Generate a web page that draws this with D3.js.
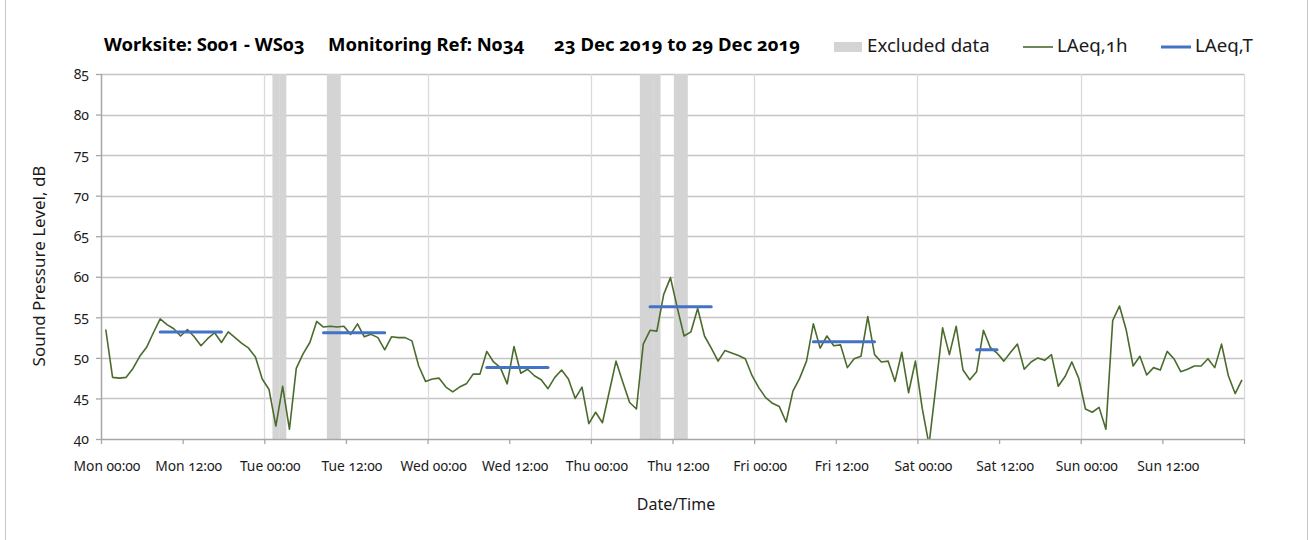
<!DOCTYPE html>
<html>
<head>
<meta charset="utf-8">
<script src="https://cdn.jsdelivr.net/npm/d3@7"></script>
<style>
  html, body { margin: 0; padding: 0; background: #fff; }
  svg { display: block; font-family: "Noto Sans", Lato, sans-serif; }
  svg text { font-variant-numeric: oldstyle-nums; font-feature-settings: "onum" 1; }
</style>
</head>
<body>
<svg id="chart" width="1309" height="540"></svg>
<script>
// ---------------- DATA ----------------
const titleParts = ["Worksite: S001 - WS03", "Monitoring Ref: N034", "23 Dec 2019 to 29 Dec 2019"];
const xTickLabels = ["Mon 00:00", "Mon 12:00", "Tue 00:00", "Tue 12:00", "Wed 00:00", "Wed 12:00",
                     "Thu 00:00", "Thu 12:00", "Fri 00:00", "Fri 12:00", "Sat 00:00", "Sat 12:00",
                     "Sun 00:00", "Sun 12:00"];
const yTickValues = [40, 45, 50, 55, 60, 65, 70, 75, 80, 85];
// hourly LAeq,1h values, one per hour starting Mon 00:00 (point time = hour + 0.7)
const pointOffsetHours = 0.7;
const laeq1h = [
  53.5, 47.6, 47.5, 47.6, 48.7, 50.2, 51.3, 53.1, 54.8, 54.1, 53.6, 52.7, 53.5, 52.6, 51.5, 52.4, 53.1, 51.9, 53.2, 52.5, 51.8, 51.2, 50.1, 47.4,
  46.1, 41.6, 46.5, 41.2, 48.7, 50.5, 51.9, 54.5, 53.8, 53.9, 53.8, 53.9, 52.9, 54.2, 52.6, 52.9, 52.5, 51.0, 52.6, 52.5, 52.5, 52.1, 49.0, 47.1,
  47.4, 47.5, 46.4, 45.8, 46.4, 46.8, 48.0, 48.0, 50.8, 49.5, 48.8, 46.8, 51.4, 48.1, 48.6, 47.8, 47.3, 46.2, 47.6, 48.5, 47.4, 45.0, 46.4, 41.9,
  43.3, 42.0, 45.8, 49.6, 47.0, 44.5, 43.7, 51.7, 53.4, 53.3, 57.8, 59.9, 56.2, 52.7, 53.2, 56.1, 52.7, 51.2, 49.6, 50.9, 50.6, 50.3, 49.9, 47.8,
  46.3, 45.1, 44.4, 44.0, 42.1, 45.9, 47.5, 49.6, 54.2, 51.2, 52.7, 51.5, 51.6, 48.8, 49.9, 50.2, 55.1, 50.4, 49.5, 49.6, 47.1, 50.7, 45.7, 49.6,
  43.8, 39.3, 46.4, 53.7, 50.4, 53.9, 48.5, 47.3, 48.3, 53.4, 51.3, 50.6, 49.6, 50.7, 51.7, 48.6, 49.5, 50.0, 49.7, 50.4, 46.5, 47.7, 49.5, 47.5,
  43.7, 43.3, 43.9, 41.2, 54.6, 56.4, 53.4, 49.0, 50.2, 47.9, 48.8, 48.5, 50.8, 49.9, 48.3, 48.6, 49.0, 49.0, 49.9, 48.8, 51.7, 47.8, 45.6, 47.3
];
// LAeq,T daytime periods (hour indices of first / last hourly point) and values
const periodStart = [8, 32, 56, 80, 104, 128];
const periodEnd   = [17, 41, 65, 89, 113, 131];
const laeqT       = [53.2, 53.1, 48.8, 56.3, 52.0, 51.0];
// hours whose data are excluded
const excludedHours = [25, 26, 33, 34, 79, 80, 81, 84, 85];
const legendLabels = ["Excluded data", "LAeq,1h", "LAeq,T"];
const axisTitles = { y: "Sound Pressure Level, dB", x: "Date/Time" };

// ---------------- LAYOUT ----------------
const W = 1309, H = 540;
const plot = { left: 101, right: 1244, top: 74, bottom: 439 };
const colors = { line: "#4a6b2c", blue: "#4472c4", excl: "#d4d4d4", gridH: "#c4c4c4", gridV: "#dadada", axis: "#a6a6a6", text: "#1a1a1a" };

const svg = d3.select("#chart");
svg.append("rect").attr("width", W).attr("height", H).attr("fill", "#fff");
svg.append("line").attr("x1", 5.5).attr("x2", 5.5).attr("y1", 0).attr("y2", H).attr("stroke", "#c8c8c8");
svg.append("line").attr("x1", 1307.5).attr("x2", 1307.5).attr("y1", 0).attr("y2", H).attr("stroke", "#c8c8c8");

const x = d3.scaleLinear().domain([0, 168]).range([plot.left, plot.right]);
const y = d3.scaleLinear().domain([40, 85]).range([plot.bottom, plot.top]);

svg.append("g").selectAll("line").data(yTickValues.filter(v => v > 40)).join("line")
  .attr("x1", plot.left).attr("x2", plot.right)
  .attr("y1", d => Math.round(y(d)) + 0.5).attr("y2", d => Math.round(y(d)) + 0.5)
  .attr("stroke", colors.gridH).attr("stroke-width", 1.3);

const dayTicks = d3.range(24, 169, 24);
svg.append("g").selectAll("line").data(dayTicks).join("line")
  .attr("x1", d => Math.round(x(d)) + 0.5).attr("x2", d => Math.round(x(d)) + 0.5)
  .attr("y1", plot.top).attr("y2", plot.bottom)
  .attr("stroke", colors.gridV).attr("stroke-width", 1.3);

svg.append("g").selectAll("rect").data(excludedHours).join("rect")
  .attr("x", d => x(d + pointOffsetHours - 0.5))
  .attr("width", d => x(d + pointOffsetHours + 0.5) - x(d + pointOffsetHours - 0.5) + 0.3)
  .attr("y", plot.top).attr("height", plot.bottom - plot.top)
  .attr("fill", colors.excl);

svg.append("clipPath").attr("id", "clip").append("rect")
  .attr("x", plot.left).attr("y", plot.top).attr("width", plot.right - plot.left).attr("height", plot.bottom - plot.top);

const line = d3.line().x((d, i) => x(i + pointOffsetHours)).y(d => y(d));
svg.append("path").datum(laeq1h).attr("d", line)
  .attr("fill", "none").attr("stroke", colors.line).attr("stroke-width", 1.6)
  .attr("stroke-linejoin", "round").attr("clip-path", "url(#clip)");

svg.append("g").selectAll("line").data(laeqT).join("line")
  .attr("x1", (d, i) => x(periodStart[i] + pointOffsetHours))
  .attr("x2", (d, i) => x(periodEnd[i] + pointOffsetHours))
  .attr("y1", d => y(d)).attr("y2", d => y(d))
  .attr("stroke", colors.blue).attr("stroke-width", 3).attr("stroke-linecap", "round");

const xAxis = d3.axisBottom(x).tickValues(d3.range(0, 169, 12)).tickSize(5).tickFormat("");
const gx = svg.append("g").attr("transform", `translate(0,${plot.bottom})`).call(xAxis);
gx.select(".domain").attr("stroke", colors.axis).attr("stroke-width", 1.5).attr("d", `M${plot.left},0.5H${plot.right}`);
gx.selectAll(".tick line").attr("stroke", colors.axis).attr("stroke-width", 1.3);

svg.append("g").selectAll("text").data(xTickLabels).join("text")
  .attr("x", (d, i) => x(i * 12) + 6).attr("y", 471)
  .attr("text-anchor", "middle").attr("font-size", 13.8).attr("fill", colors.text)
  .style("font-variant-numeric", "oldstyle-nums")
  .text(d => d);

const yAxis = d3.axisLeft(y).tickValues(yTickValues).tickSize(5).tickFormat(d3.format("d"));
const gy = svg.append("g").attr("transform", `translate(${plot.left},0)`).call(yAxis);
gy.attr("font-family", null).attr("font-size", null);
gy.select(".domain").attr("stroke", colors.axis).attr("stroke-width", 1.5).attr("d", `M0.5,${plot.top}V${plot.bottom}`);
gy.selectAll(".tick line").attr("stroke", colors.axis).attr("stroke-width", 1.3);
gy.selectAll(".tick text").attr("x", -12).attr("font-size", 14).attr("fill", colors.text)
  .style("font-family", "'Noto Sans', sans-serif")
  .style("font-variant-numeric", "oldstyle-nums");

svg.append("text").attr("transform", `translate(45,266) rotate(-90)`)
  .attr("text-anchor", "middle").attr("font-size", 17).attr("fill", colors.text).text(axisTitles.y);
svg.append("text").attr("x", 676).attr("y", 510)
  .attr("text-anchor", "middle").attr("font-size", 16).attr("fill", colors.text).text(axisTitles.x);

const titleX = [104, 328, 554];
svg.append("g").selectAll("text").data(titleParts).join("text")
  .attr("x", (d, i) => titleX[i]).attr("y", 51)
  .attr("font-size", 18.5).attr("font-weight", "bold").attr("fill", "#000")
  .text(d => d);

const lg = svg.append("g");
lg.append("rect").attr("x", 834).attr("y", 42).attr("width", 28).attr("height", 10).attr("fill", colors.excl);
lg.append("text").attr("x", 867).attr("y", 52).attr("font-size", 18.7).attr("fill", colors.text).text(legendLabels[0]);
lg.append("line").attr("x1", 1023).attr("x2", 1053).attr("y1", 47).attr("y2", 47).attr("stroke", colors.line).attr("stroke-width", 1.6);
lg.append("text").attr("x", 1057).attr("y", 52).attr("font-size", 18.7).attr("fill", colors.text).text(legendLabels[1]);
lg.append("line").attr("x1", 1161).attr("x2", 1191).attr("y1", 47).attr("y2", 47).attr("stroke", colors.blue).attr("stroke-width", 3);
lg.append("text").attr("x", 1195).attr("y", 52).attr("font-size", 18.7).attr("fill", colors.text).text(legendLabels[2]);
</script>
</body>
</html>
